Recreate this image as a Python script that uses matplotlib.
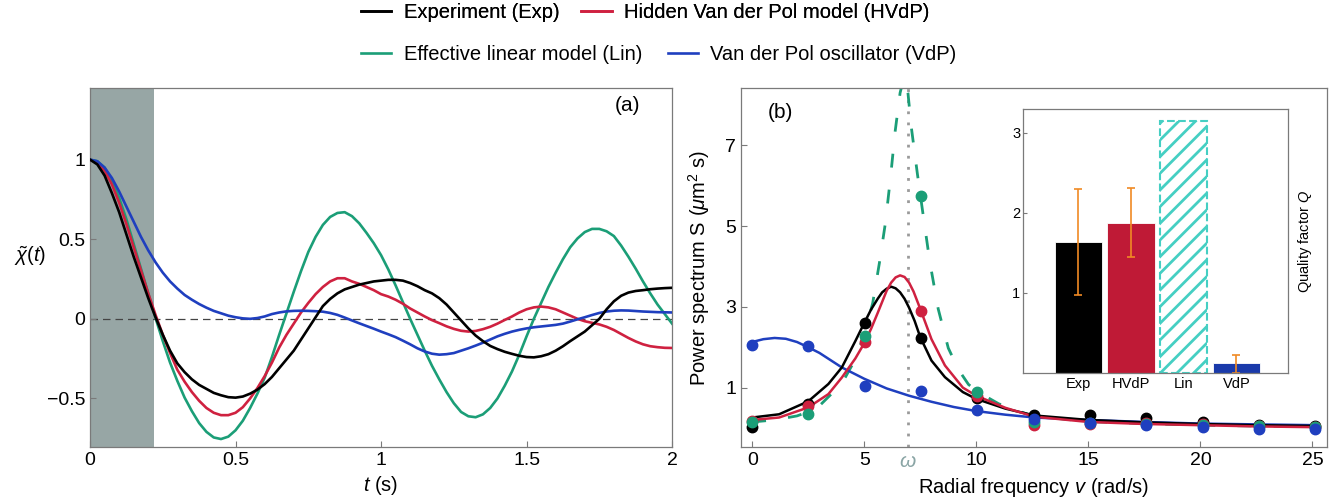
import numpy as np
import matplotlib
matplotlib.use('Agg')
import matplotlib.pyplot as plt

plt.rcParams['font.family'] = ['Liberation Sans', 'DejaVu Sans']
plt.rcParams['mathtext.fontset'] = 'custom'
plt.rcParams['mathtext.rm'] = 'Liberation Sans'
plt.rcParams['mathtext.it'] = 'Liberation Sans:italic'
plt.rcParams['hatch.linewidth'] = 2.0

BLACK = '#000000'
RED = '#cf2140'
GREEN = '#1b9e77'
BLUE = '#1f3fbf'
TURQ = '#45cfc3'
ORANGE = '#f08a24'

# ---- panel (a): normalised autocorrelation, every 0.025 s ----
t = np.round(np.arange(81) * 0.025, 3)
chi_exp = [1.0, 0.97, 0.9, 0.79, 0.67, 0.53, 0.39, 0.26, 0.13, 0.01,
           -0.1, -0.2, -0.28, -0.335, -0.38, -0.415, -0.44, -0.465, -0.48, -0.492,
           -0.495, -0.488, -0.47, -0.445, -0.41, -0.365, -0.31, -0.255, -0.2, -0.13,
           -0.06, 0.01, 0.08, 0.125, 0.16, 0.185, 0.2, 0.215, 0.225, 0.235,
           0.24, 0.245, 0.245, 0.24, 0.225, 0.205, 0.18, 0.16, 0.13, 0.09,
           0.04, -0.01, -0.06, -0.105, -0.14, -0.17, -0.19, -0.207, -0.22, -0.232,
           -0.24, -0.242, -0.235, -0.222, -0.2, -0.172, -0.14, -0.11, -0.08, -0.04,
           0.0, 0.06, 0.11, 0.145, 0.165, 0.175, 0.18, 0.186, 0.19, 0.193,
           0.195]
chi_hvdp = [1.0, 0.98, 0.93, 0.845, 0.73, 0.595, 0.45, 0.305, 0.16, 0.025,
            -0.1, -0.215, -0.32, -0.395, -0.46, -0.515, -0.56, -0.59, -0.605, -0.605,
            -0.59, -0.555, -0.5, -0.435, -0.36, -0.275, -0.18, -0.1, -0.03, 0.04,
            0.1, 0.155, 0.2, 0.235, 0.255, 0.255, 0.235, 0.22, 0.2, 0.18,
            0.155, 0.14, 0.12, 0.095, 0.065, 0.04, 0.015, -0.008, -0.027, -0.047,
            -0.063, -0.075, -0.08, -0.076, -0.065, -0.05, -0.03, -0.007, 0.015, 0.04,
            0.06, 0.072, 0.077, 0.072, 0.06, 0.04, 0.02, 0.0, -0.015, -0.025,
            -0.035, -0.05, -0.07, -0.095, -0.12, -0.142, -0.16, -0.172, -0.178, -0.182,
            -0.183]
chi_lin = [1.0, 0.99, 0.95, 0.87, 0.76, 0.625, 0.47, 0.315, 0.16, 0.005,
           -0.14, -0.275, -0.39, -0.495, -0.58, -0.655, -0.71, -0.745, -0.755, -0.74,
           -0.7, -0.64, -0.56, -0.47, -0.37, -0.24, -0.1, 0.035, 0.17, 0.3,
           0.42, 0.515, 0.59, 0.64, 0.665, 0.67, 0.645, 0.6, 0.54, 0.475,
           0.4, 0.31, 0.21, 0.105, 0.0, -0.1, -0.2, -0.295, -0.38, -0.46,
           -0.53, -0.585, -0.612, -0.618, -0.6, -0.56, -0.5, -0.42, -0.33, -0.225,
           -0.11, 0.0, 0.1, 0.2, 0.29, 0.375, 0.45, 0.505, 0.545, 0.565,
           0.565, 0.55, 0.52, 0.46, 0.39, 0.315, 0.235, 0.16, 0.09, 0.03,
           -0.03]
chi_vdp = [1.0, 0.99, 0.95, 0.885, 0.8, 0.705, 0.61, 0.515, 0.43, 0.355,
           0.29, 0.235, 0.19, 0.15, 0.12, 0.093, 0.07, 0.05, 0.035, 0.02,
           0.01, 0.003, 0.0, 0.005, 0.015, 0.03, 0.04, 0.047, 0.05, 0.051,
           0.05, 0.048, 0.045, 0.037, 0.025, 0.008, -0.01, -0.028, -0.045, -0.062,
           -0.08, -0.097, -0.115, -0.137, -0.16, -0.185, -0.205, -0.219, -0.225, -0.222,
           -0.215, -0.2, -0.185, -0.168, -0.15, -0.13, -0.11, -0.094, -0.08, -0.069,
           -0.06, -0.053, -0.048, -0.043, -0.038, -0.03, -0.017, -0.003, 0.01, 0.024,
           0.037, 0.046, 0.051, 0.053, 0.052, 0.049, 0.046, 0.044, 0.042, 0.041,
           0.04]
t_shade = 0.22

# ---- panel (b): power spectra ----
nu_pts = [0, 2.51, 5.03, 7.54, 10.05, 12.57, 15.08, 17.59, 20.11, 22.62, 25.13]
s_exp_pts = [0.03, 0.6, 2.61, 2.22, 0.75, 0.32, 0.33, 0.24, 0.14, 0.07, 0.04]
s_hvdp_pts = [0.18, 0.54, 2.13, 2.89, 0.8, 0.08, 0.1, 0.12, 0.1, 0.04, 0.02]
s_lin_pts = [0.14, 0.35, 2.28, 5.74, 0.9, 0.15, 0.12, 0.1, 0.07, 0.06, 0.03]
s_vdp_pts = [2.06, 2.02, 1.04, 0.91, 0.44, 0.22, 0.13, 0.07, 0.03, -0.02, -0.02]

nu_exp = [0, 1.2, 2.5, 3.4, 4.0, 4.6, 5.0, 5.3, 5.6, 5.8, 6.0, 6.2, 6.4, 6.6, 6.8,
          7.0, 7.25, 7.5, 8.0, 8.6, 9.4, 10.0, 11.3, 12.6, 15, 17.5, 20, 22.5, 25.2]
s_exp = [0.26, 0.34, 0.66, 1.09, 1.5, 2.15, 2.6, 2.93, 3.2, 3.36, 3.45, 3.5, 3.46,
         3.36, 3.2, 2.98, 2.65, 2.25, 1.67, 1.26, 0.89, 0.72, 0.48, 0.31, 0.2,
         0.14, 0.1, 0.07, 0.05]
nu_hvdp = [0, 1.2, 2.5, 3.4, 4.0, 4.6, 5.0, 5.3, 5.6, 6.0, 6.2, 6.4, 6.6, 6.8, 7.0,
           7.2, 7.5, 8.0, 8.6, 9.4, 10.0, 11.3, 12.6, 15, 17.5, 20, 22.5, 25.2]
s_hvdp = [0.2, 0.26, 0.51, 0.84, 1.25, 1.72, 2.1, 2.45, 2.85, 3.4, 3.6, 3.73, 3.78,
          3.74, 3.6, 3.38, 2.95, 2.2, 1.55, 1.0, 0.8, 0.5, 0.28, 0.15, 0.1, 0.07,
          0.04, 0.02]
nu_lin = [0, 1.0, 2.0, 2.5, 3.0, 4.0, 4.5, 5.0, 5.38, 5.68, 5.95, 6.19, 6.38, 6.6,
          6.78, 6.95, 7.1, 7.37, 7.66, 7.93, 8.3, 8.75, 9.2, 9.65, 10.05, 11.0,
          12.5, 15, 17.5, 20, 22.5, 25.2]
s_lin = [0.15, 0.2, 0.3, 0.4, 0.55, 1.1, 1.6, 2.3, 3.1, 4.1, 5.1, 6.3, 7.35, 8.3,
         8.7, 8.3, 7.45, 6.3, 5.15, 4.1, 2.95, 1.98, 1.45, 1.08, 0.9, 0.6,
         0.3, 0.16, 0.11, 0.07, 0.05, 0.03]
nu_vdp = [0, 0.5, 1.0, 1.5, 2.0, 2.5, 3.0, 3.5, 4.0, 5.0, 6.0, 7.0, 8.0, 9.0, 10.0,
          11.3, 12.6, 15, 17.5, 20, 22.5, 25.2]
s_vdp = [2.13, 2.2, 2.23, 2.21, 2.13, 2.0, 1.86, 1.68, 1.5, 1.22, 0.98, 0.8, 0.65,
         0.52, 0.42, 0.33, 0.26, 0.2, 0.15, 0.11, 0.09, 0.07]
omega = 6.95

# ---- inset: quality factors ----
q_names = ['Exp', 'HVdP', 'Lin', 'VdP']
q_vals = [1.64, 1.88, 3.15, 0.12]
q_lo = [0.98, 1.45, None, 0.0]
q_hi = [2.3, 2.31, None, 0.23]


fig = plt.figure(figsize=(13.38, 5.0), dpi=100)
ax_a = fig.add_axes([0.0673, 0.106, 0.435, 0.718])
ax_b = fig.add_axes([0.5538, 0.106, 0.438, 0.718])
ax_in = fig.add_axes([0.7646, 0.254, 0.198, 0.528])

for ax in (ax_a, ax_b, ax_in):
    for sp in ax.spines.values():
        sp.set_color('#7a7a7a')
        sp.set_linewidth(0.9)
    ax.tick_params(direction='in', length=4, width=0.8, color='#7a7a7a',
                   labelsize=14)

# panel (a)
ax_a.axvspan(0, t_shade, color='#97a6a5', lw=0, zorder=0)
ax_a.axhline(0, color='#444444', lw=0.9, dashes=(6, 4), zorder=1)
l_exp, = ax_a.plot(t, chi_exp, color=BLACK, lw=1.9, zorder=4)
l_hvdp, = ax_a.plot(t, chi_hvdp, color=RED, lw=1.9, zorder=3)
l_lin, = ax_a.plot(t, chi_lin, color=GREEN, lw=1.9, zorder=2)
l_vdp, = ax_a.plot(t, chi_vdp, color=BLUE, lw=1.9, zorder=3)
ax_a.set_xlim(0, 2)
ax_a.set_ylim(-0.805, 1.45)
ax_a.set_xticks([0, 0.5, 1, 1.5, 2], ['0', '0.5', '1', '1.5', '2'])
ax_a.set_yticks([-0.5, 0, 0.5, 1], ['\u22120.5', '0', '0.5', '1'])
ax_a.set_xlabel('$t$ (s)', fontsize=14.5)
ax_a.set_ylabel(r'$\tilde{\chi}(t)$', fontsize=14.5, rotation=0)
ax_a.yaxis.set_label_coords(-0.103, 0.5)
ax_a.text(0.923, 0.95, '(a)', transform=ax_a.transAxes, fontsize=15,
          ha='center', va='center')

# panel (b)
ax_b.axvline(omega, color='#9a9a9a', lw=2, ls=(0, (1, 3)), zorder=1)
ax_b.plot(nu_lin, s_lin, color=GREEN, lw=2, dashes=(5, 8), zorder=2)
ax_b.plot(nu_vdp, s_vdp, color=BLUE, lw=1.8, zorder=3)
ax_b.plot(nu_exp, s_exp, color=BLACK, lw=1.8, zorder=3)
ax_b.plot(nu_hvdp, s_hvdp, color=RED, lw=1.8, zorder=3)
ax_b.plot(nu_pts, s_exp_pts, 'o', color=BLACK, ms=7.5, zorder=4)
ax_b.plot(nu_pts, s_hvdp_pts, 'o', color=RED, ms=7.5, zorder=4)
ax_b.plot(nu_pts, s_lin_pts, 'o', color=GREEN, ms=7.5, zorder=4)
ax_b.plot(nu_pts, s_vdp_pts, 'o', color=BLUE, ms=7.5, zorder=5)
ax_b.set_xlim(-0.5, 25.65)
ax_b.set_ylim(-0.47, 8.42)
ax_b.set_xticks([0, 5, 10, 15, 20, 25])
ax_b.set_xticks([omega], ['$\\omega$'], minor=True)
ax_b.tick_params(axis='x', which='minor', length=0, labelcolor='#8aa5a5',
                 labelsize=15)
ax_b.set_yticks([1, 3, 5, 7])
ax_b.set_xlabel('Radial frequency $v$ (rad/s)', fontsize=14.5)
ax_b.set_ylabel('Power spectrum S ($\\mu$m$^2$ s)', fontsize=14.5)
ax_b.yaxis.set_label_coords(-0.05, 0.5)
ax_b.text(0.067, 0.933, '(b)', transform=ax_b.transAxes, fontsize=15,
          ha='center', va='center')

# inset
x = np.arange(len(q_names))
solid = [0, 1, 3]
ax_in.bar([x[i] for i in solid], [q_vals[i] for i in solid], width=0.9,
          color=[BLACK, '#bf1a36', '#1a3aaa'], edgecolor='white', lw=0.6)
ax_in.bar(x[2], q_vals[2], width=0.9, fill=False, hatch='//',
          edgecolor=TURQ, linestyle='--', lw=1.5)
for i in solid:
    ax_in.errorbar(x[i], q_vals[i],
                   yerr=[[q_vals[i] - q_lo[i]], [q_hi[i] - q_vals[i]]],
                   color=ORANGE, lw=1.2, capsize=3, capthick=1.2)
ax_in.set_xlim(-1.05, 3.98)
ax_in.set_ylim(0, 3.3)
ax_in.set_xticks(x, q_names)
ax_in.set_yticks([1, 2, 3])
ax_in.tick_params(axis='x', length=0, labelsize=10.5, pad=3)
ax_in.tick_params(axis='y', length=3, labelsize=10.5, pad=2)
ax_in.yaxis.set_label_position('right')
ax_in.set_ylabel('Quality factor $Q$', fontsize=10.5, labelpad=6)

# legend in two rows above the panels
leg_kw = dict(frameon=False, fontsize=14.5, handlelength=1.5, handletextpad=0.6,
              borderpad=0, borderaxespad=0, loc='center left')
leg1 = fig.legend([l_exp, l_hvdp],
                  ['Experiment (Exp)', 'Hidden Van der Pol model (HVdP)'],
                  ncol=2, columnspacing=1.1, bbox_to_anchor=(0.27, 0.974), **leg_kw)
fig.add_artist(leg1)
fig.legend([l_lin, l_vdp],
           ['Effective linear model (Lin)', 'Van der Pol oscillator (VdP)'],
           ncol=2, columnspacing=1.3, bbox_to_anchor=(0.27, 0.89), **leg_kw)

fig.savefig('out.png', dpi=100)
